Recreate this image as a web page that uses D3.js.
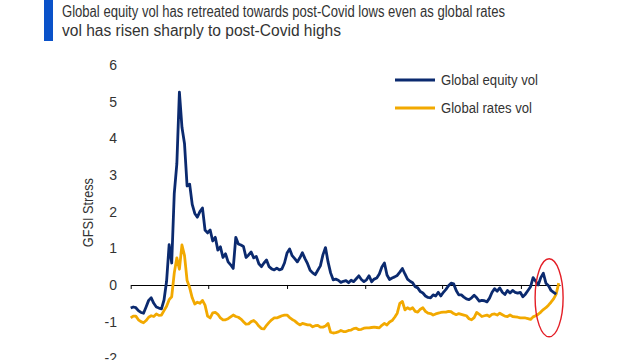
<!DOCTYPE html>
<html>
<head>
<meta charset="utf-8">
<script src="https://cdn.jsdelivr.net/npm/d3@7"></script>
<style>
  html, body { margin: 0; padding: 0; background: #fff; }
  svg { display: block; }
  text { font-family: "Liberation Sans", Arial, sans-serif; }
</style>
</head>
<body>
<svg id="chart" width="640" height="360"></svg>
<script>
// ---- data ----
const titleLines = [
  "Global equity vol has retreated towards post-Covid lows even as global rates",
  "vol has risen sharply to post-Covid highs"
];
const yAxisLabel = "GFSI Stress";
const seriesNames = ["Global equity vol", "Global rates vol"];
const yTicks = [-2, -1, 0, 1, 2, 3, 4, 5, 6];
const startDate = "2020-01-01";
const endDate = "2021-11-01";
const stepDays = 4;
const highlightDate = "2021-10-15";

const equityVol = [
  -0.63,-0.6,-0.62,-0.7,-0.75,-0.77,-0.6,-0.42,-0.35,-0.5,
  -0.6,-0.63,-0.65,-0.41,0.1,1.1,0.6,2.5,3.3,5.26,
  4.3,3.85,2.7,2.75,2.2,1.95,1.85,2.0,2.1,1.5,
  1.42,1.5,1.2,1.3,0.95,1.04,0.75,0.85,0.63,0.55,
  0.45,1.3,1.12,1.09,1.05,0.75,0.82,0.9,0.74,0.78,
  0.58,0.5,0.6,0.68,0.5,0.44,0.41,0.46,0.41,0.44,
  0.6,0.87,0.98,0.8,0.72,0.63,0.74,0.88,0.72,0.58,
  0.4,0.33,0.28,0.4,0.52,0.82,1.02,0.63,0.33,0.14,
  0.16,0.13,0.07,0.1,0.12,0.06,0.13,0.09,0.17,0.25,
  0.15,0.09,0.14,0.25,0.09,0.16,0.19,0.3,0.49,0.6,
  0.27,0.15,0.19,0.22,0.26,0.35,0.45,0.3,0.16,0.1,
  0.06,-0.05,-0.08,-0.18,-0.22,-0.3,-0.34,-0.35,-0.27,-0.3,
  -0.2,-0.3,-0.2,-0.12,-0.02,0.05,0.03,-0.15,-0.27,-0.27,
  -0.33,-0.38,-0.4,-0.35,-0.28,-0.35,-0.44,-0.42,-0.43,-0.46,
  -0.36,-0.2,-0.1,-0.17,-0.08,-0.2,-0.26,-0.15,-0.22,-0.15,
  -0.2,-0.22,-0.2,-0.32,-0.25,-0.15,-0.05,0.2,0.1,0.0,
  0.2,0.32,0.05,-0.02,-0.15,-0.2,-0.25
];
const ratesVol = [
  -0.9,-0.85,-0.85,-0.95,-1.0,-1.03,-0.97,-0.88,-0.84,-0.86,
  -0.79,-0.83,-0.82,-0.7,-0.58,-0.4,-0.32,0.33,0.74,0.43,
  1.09,0.8,0.12,-0.07,-0.35,-0.52,-0.47,-0.5,-0.42,-0.55,
  -0.85,-0.9,-0.76,-0.75,-0.8,-0.9,-0.95,-0.95,-0.92,-0.87,
  -0.82,-0.86,-0.88,-0.93,-1.0,-1.07,-1.06,-1.0,-0.97,-1.03,
  -1.12,-1.19,-1.2,-1.1,-1.02,-0.95,-0.9,-0.9,-0.87,-0.84,
  -0.82,-0.82,-0.89,-0.94,-0.98,-1.04,-1.09,-1.05,-1.07,-1.09,
  -1.09,-1.14,-1.11,-1.1,-1.15,-1.15,-1.12,-1.05,-1.29,-1.31,
  -1.3,-1.28,-1.24,-1.27,-1.27,-1.24,-1.23,-1.19,-1.18,-1.22,
  -1.21,-1.18,-1.17,-1.17,-1.16,-1.15,-1.16,-1.17,-1.1,-1.05,
  -1.09,-1.01,-0.97,-0.88,-0.77,-0.5,-0.45,-0.68,-0.62,-0.66,
  -0.62,-0.72,-0.74,-0.66,-0.62,-0.72,-0.77,-0.78,-0.82,-0.79,
  -0.77,-0.75,-0.74,-0.74,-0.72,-0.73,-0.78,-0.81,-0.78,-0.8,
  -0.82,-0.84,-0.92,-0.95,-0.89,-0.75,-0.8,-0.86,-0.84,-0.82,
  -0.86,-0.8,-0.79,-0.82,-0.77,-0.81,-0.85,-0.86,-0.82,-0.86,
  -0.87,-0.88,-0.9,-0.9,-0.9,-0.92,-0.94,-0.87,-0.84,-0.8,
  -0.74,-0.67,-0.62,-0.55,-0.47,-0.38,-0.25,0.05
];
const colors = ["#0b2a6f", "#f2a900"];

// ---- build ----
const parse = d3.utcParse("%Y-%m-%d");
const start = parse(startDate);
const toPoints = arr => arr.map((v, i) => ({ date: d3.utcDay.offset(start, i * stepDays), value: v }));
const series = [toPoints(equityVol), toPoints(ratesVol)];

const svg = d3.select("#chart");
const x = d3.scaleUtc().domain([start, parse(endDate)]).range([130.7, 560]);
const y = d3.scaleLinear().domain([-2, 6]).range([358.3, 65]);

// title
svg.append("rect").attr("x", 44).attr("y", 0).attr("width", 9).attr("height", 41).attr("fill", "#0a52c9");
const titleWidths = [443, 279];
svg.selectAll(".title").data(titleLines).join("text")
  .attr("class", "title")
  .attr("x", 62).attr("y", (d, i) => 17 + i * 19)
  .attr("font-size", 16).attr("fill", "#333")
  .attr("textLength", (d, i) => titleWidths[i]).attr("lengthAdjust", "spacingAndGlyphs")
  .text(d => d);

// y tick labels
svg.append("g").selectAll("text").data(yTicks).join("text")
  .attr("x", 117).attr("y", d => y(d)).attr("dy", "0.36em")
  .attr("text-anchor", "end").attr("font-size", 14).attr("fill", "#333")
  .text(d => d);

// y axis title
svg.append("text")
  .attr("transform", `translate(93,${y(2) + 1}) rotate(-90)`)
  .attr("text-anchor", "middle").attr("font-size", 14).attr("fill", "#333")
  .attr("textLength", 69).attr("lengthAdjust", "spacingAndGlyphs")
  .text(yAxisLabel);

// x axis at zero
const xAxis = d3.axisBottom(x).ticks(d3.utcMonth.every(4)).tickFormat("").tickSize(4).tickSizeOuter(0);
const gx = svg.append("g").attr("transform", `translate(0,${y(0)})`).call(xAxis);
gx.select(".domain").attr("stroke", "#000").attr("stroke-width", 1.2);
gx.selectAll(".tick line").attr("stroke", "#000").attr("stroke-width", 1);

// lines
const line = d3.line().x(d => x(d.date)).y(d => y(d.value));
svg.selectAll(".series").data([series[1], series[0]]).join("path")
  .attr("class", "series")
  .attr("fill", "none")
  .attr("stroke", (d, i) => i === 0 ? colors[1] : colors[0])
  .attr("stroke-width", 2.8)
  .attr("stroke-linejoin", "round")
  .attr("d", line);

// highlight ellipse
svg.append("ellipse")
  .attr("cx", x(parse(highlightDate))).attr("cy", y(-0.35))
  .attr("rx", 14).attr("ry", 39)
  .attr("fill", "none").attr("stroke", "#e41e26").attr("stroke-width", 1.4);

// legend
const legendWidths = [97, 91];
const lg = svg.append("g").selectAll("g").data(seriesNames).join("g")
  .attr("transform", (d, i) => `translate(395,${80 + i * 28})`);
lg.append("line").attr("x1", 0).attr("x2", 40).attr("y1", 0).attr("y2", 0)
  .attr("stroke", (d, i) => colors[i]).attr("stroke-width", 2.8);
lg.append("text").attr("x", 46).attr("y", 0).attr("dy", "0.36em")
  .attr("font-size", 14).attr("fill", "#333")
  .attr("textLength", (d, i) => legendWidths[i]).attr("lengthAdjust", "spacingAndGlyphs")
  .text(d => d);
</script>
</body>
</html>
